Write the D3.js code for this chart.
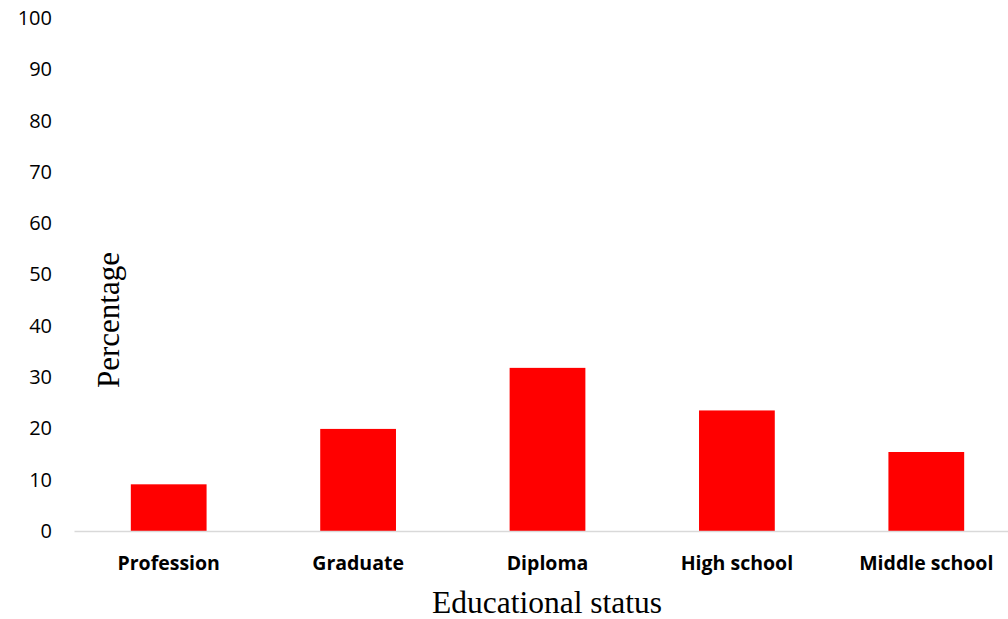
<!DOCTYPE html>
<html>
<head>
<meta charset="utf-8">
<script src="https://cdn.jsdelivr.net/npm/d3@7"></script>
<style>
  html, body { margin: 0; padding: 0; background: #fff; }
  svg { display: block; }
</style>
</head>
<body>
<svg id="chart" width="1008" height="619"></svg>
<script>
// Educational status distribution (percent of respondents)
const categories = ["Profession", "Graduate", "Diploma", "High school", "Middle school"];
const percentages = [9.1, 19.9, 31.8, 23.5, 15.4];
const yTicks = [0, 10, 20, 30, 40, 50, 60, 70, 80, 90, 100];

const svg = d3.select("#chart");

const x = d3.scaleBand()
  .domain(categories)
  .range([74, 1021])
  .paddingInner(0.6)
  .paddingOuter(0.3);

const y = d3.scaleLinear()
  .domain([0, 100])
  .range([531, 18]);

// Value axis: labels only, no line or ticks
const yAxis = svg.append("g")
  .attr("transform", "translate(52,0)")
  .call(d3.axisLeft(y).tickValues(yTicks).tickSize(0).tickPadding(0));
yAxis.select(".domain").remove();
yAxis.selectAll("text")
  .attr("font-family", "'Open Sans', 'Noto Sans', sans-serif")
  .attr("font-size", 20)
  .attr("fill", "#000");

// Bars
svg.append("g")
  .selectAll("rect")
  .data(categories)
  .join("rect")
  .attr("x", d => x(d))
  .attr("width", x.bandwidth())
  .attr("y", (d, i) => y(percentages[i]))
  .attr("height", (d, i) => y(0) - y(percentages[i]))
  .attr("fill", "#ff0000");

// Category axis along the baseline
const xAxis = svg.append("g")
  .attr("transform", `translate(0,${y(0)})`)
  .call(d3.axisBottom(x).tickSize(0).tickPadding(25).tickSizeOuter(0));
xAxis.select(".domain")
  .attr("stroke", "#d9d9d9")
  .attr("stroke-width", 1.5);
xAxis.selectAll("text")
  .attr("font-family", "'Open Sans', 'Noto Sans', sans-serif")
  .attr("font-weight", "bold")
  .attr("font-size", 19.5)
  .attr("fill", "#000");

// Axis titles
svg.append("text")
  .attr("x", 547)
  .attr("y", 613)
  .attr("text-anchor", "middle")
  .attr("font-family", "'Liberation Serif', 'Times New Roman', serif")
  .attr("font-size", 31.5)
  .attr("fill", "#000")
  .text("Educational status");

svg.append("text")
  .attr("transform", "translate(119,320) rotate(-90)")
  .attr("text-anchor", "middle")
  .attr("font-family", "'Liberation Serif', 'Times New Roman', serif")
  .attr("font-size", 31)
  .attr("fill", "#000")
  .text("Percentage");
</script>
</body>
</html>
